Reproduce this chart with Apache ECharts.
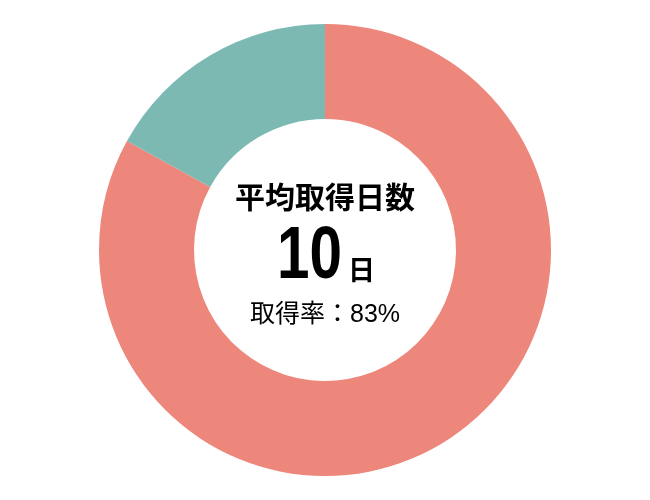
<!DOCTYPE html>
<html><head><meta charset="utf-8">
<script src="https://cdn.jsdelivr.net/npm/echarts@6/dist/echarts.min.js"></script>
<style>html,body{margin:0;padding:0;background:#fff}#c{width:650px;height:500px}</style>
</head><body><div id="c"></div>
<script>
var categories = ['取得', '未取得'];
var values = [83, 17];
var colors = ['#ED867B', '#7DB9B3'];
var titleText = '平均取得日数';
var daysValue = '10';
var daysUnit = '日';
var rateText = '取得率：83%';

var chart = echarts.init(document.getElementById('c'));
var cjk = '"Noto Sans CJK JP", sans-serif';
chart.setOption({
  animation: false,
  series: [{
    type: 'pie',
    center: [325, 250],
    radius: [131, 226],
    startAngle: 90,
    clockwise: true,
    label: { show: false },
    labelLine: { show: false },
    data: categories.map(function (c, i) {
      return { name: c, value: values[i], itemStyle: { color: colors[i] } };
    })
  }],
  graphic: [
    { type: 'text', left: 'center', top: 182, style: { text: titleText, font: 'bold 30px ' + cjk, fill: '#000' } },
    { type: 'text', x: 342, y: 258, scaleX: 0.79, style: { text: daysValue, font: 'bold 74px "Liberation Sans", sans-serif', fill: '#000', align: 'right', verticalAlign: 'middle' } },
    { type: 'text', x: 348, y: 270, style: { text: daysUnit, font: 'bold 27px ' + cjk, fill: '#000', align: 'left', verticalAlign: 'middle' } },
    { type: 'text', left: 'center', top: 303, style: { text: rateText, font: '25px "Liberation Sans", ' + cjk, fill: '#000' } }
  ]
});
</script></body></html>
